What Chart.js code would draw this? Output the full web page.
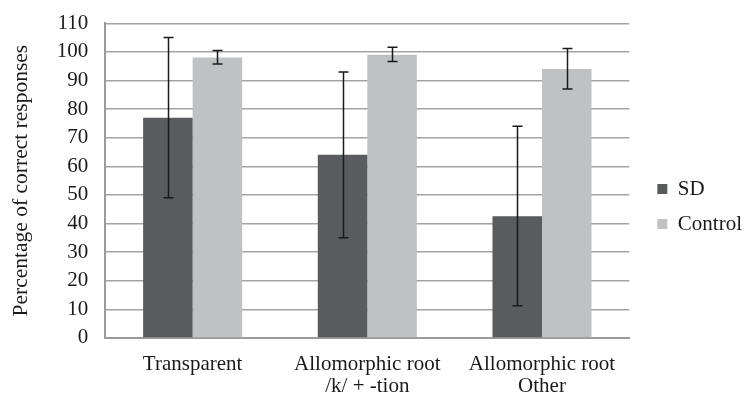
<!DOCTYPE html>
<html>
<head>
<meta charset="utf-8">
<script src="https://cdn.jsdelivr.net/npm/chart.js@4"></script>
<style>
  html, body { margin: 0; padding: 0; background: #fff; }
  #wrap { width: 744px; height: 395px; position: relative; }
</style>
</head>
<body>
<div id="wrap"><canvas id="chart"></canvas></div>
<script>
// ============ DATOS ============
const categories = ['Transparent', ['Allomorphic root', '/k/ + -tion'], ['Allomorphic root', 'Other']];
const sdValues = [77, 64, 42.5];
const sdLow = [49, 35, 11.2];
const sdHigh = [105, 93, 74];
const controlValues = [98, 99, 94];
const controlLow = [95.8, 96.6, 87];
const controlHigh = [100.5, 101.6, 101.2];
const yTicks = [0, 10, 20, 30, 40, 50, 60, 70, 80, 90, 100, 110];

const FONT = 'Liberation Serif';
const errLow = [sdLow, controlLow];
const errHigh = [sdHigh, controlHigh];

// barras de error dibujadas con la escala y
const errorBars = {
  id: 'errorBars',
  afterDatasetsDraw(chart) {
    const ctx = chart.ctx, y = chart.scales.y;
    ctx.save();
    ctx.strokeStyle = '#1a1a1a';
    ctx.lineWidth = 1.5;
    chart.data.datasets.forEach((ds, i) => {
      chart.getDatasetMeta(i).data.forEach((bar, j) => {
        const hi = y.getPixelForValue(errHigh[i][j]);
        const lo = y.getPixelForValue(errLow[i][j]);
        const x = Math.round(bar.x) + 0.5;
        ctx.beginPath();
        ctx.moveTo(x, hi); ctx.lineTo(x, lo);
        ctx.moveTo(x - 5, hi); ctx.lineTo(x + 5, hi);
        ctx.moveTo(x - 5, lo); ctx.lineTo(x + 5, lo);
        ctx.stroke();
      });
    });
    ctx.restore();
  }
};

// la leyenda queda algo más a la derecha que en el ajuste por defecto
const legendShift = {
  id: 'legendShift',
  afterLayout(chart) {
    const lg = chart.legend;
    lg.left += 14; lg.right += 14;
    lg.top += 1; lg.bottom += 1;
  }
};

new Chart(document.getElementById('chart'), {
  type: 'bar',
  data: {
    labels: categories,
    datasets: [
      { label: 'SD', data: sdValues, backgroundColor: '#5a5b5e' },
      { label: 'Control', data: controlValues, backgroundColor: '#c0c1c3' }
    ]
  },
  options: {
    responsive: true, maintainAspectRatio: false, animation: false,
    devicePixelRatio: 1,
    categoryPercentage: 0.567, barPercentage: 1,
    layout: { padding: { top: -3, left: 4, right: 6, bottom: -19 } },
    plugins: {
      tooltip: { enabled: false },
      legend: {
        position: 'right',
        labels: {
          color: '#1a1a1a', boxWidth: 10, boxHeight: 10, padding: 14,
          font: { family: FONT, size: 21 }
        }
      }
    },
    scales: {
      x: {
        grid: { display: false, drawTicks: false },
        border: { color: '#9a9a9a', width: 2 },
        ticks: { color: '#1a1a1a', padding: 16, font: { family: FONT, size: 21, lineHeight: 1.05 }, maxRotation: 0 }
      },
      y: {
        min: 0, max: 110,
        afterBuildTicks: axis => { axis.ticks = yTicks.map(v => ({ value: v })); },
        grid: { color: '#a3a3a3', lineWidth: 1.5, drawTicks: false },
        border: { color: '#9a9a9a', width: 2 },
        ticks: { color: '#1a1a1a', padding: 17, autoSkip: false, stepSize: 10, font: { family: FONT, size: 21, lineHeight: 0.6 } },
        title: { display: true, text: 'Percentage of correct responses', color: '#1a1a1a', font: { family: FONT, size: 21.5 }, padding: { bottom: 6 } }
      }
    }
  },
  plugins: [errorBars, legendShift]
});
</script>
</body>
</html>
